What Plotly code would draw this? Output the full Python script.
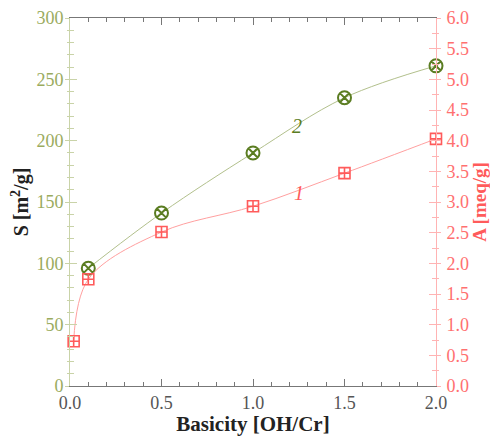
import plotly.graph_objects as go

basicity_s = [0.1, 0.5, 1.0, 1.5, 2.0]
surface_s = [96, 141, 190, 235, 261]
basicity_a = [0.02, 0.1, 0.5, 1.0, 1.5, 2.0]
acidity_a = [0.73, 1.74, 2.51, 2.93, 3.47, 4.03]

GREEN_DARK = "#5b7d22"
GREEN_LINE = "#b2c08c"
GREEN_TXT = "#9aab5e"
GREEN_AX = "#c9d3a8"
RED = "#ff5b5b"
RED_LINE = "#ffa0a0"
RED_TXT = "#ff7070"
RED_AX = "#ffb3b3"
FONT = "Liberation Serif"

fig = go.Figure()
fig.add_trace(go.Scatter(
    x=basicity_s, y=surface_s, mode="lines+markers", yaxis="y",
    line=dict(color=GREEN_LINE, width=1, shape="spline"),
    marker=dict(symbol="circle-x-open", size=13, color=GREEN_DARK, line=dict(width=2)),
    showlegend=False, cliponaxis=False))
fig.add_trace(go.Scatter(
    x=basicity_a, y=acidity_a, mode="lines+markers", yaxis="y2",
    line=dict(color=RED_LINE, width=1, shape="spline"),
    marker=dict(symbol="square-cross-open", size=11, color=RED, line=dict(width=1.6)),
    showlegend=False, cliponaxis=False))

fig.add_annotation(x=1.24, y=212, xref="x", yref="y", text="<i>2</i>", showarrow=False,
                   font=dict(family=FONT, size=20, color=GREEN_DARK))
fig.add_annotation(x=1.25, y=3.15, xref="x", yref="y2", text="<i>1</i>", showarrow=False,
                   font=dict(family=FONT, size=20, color=RED))

fig.update_layout(
    width=490, height=428,
    margin=dict(l=62, r=62, t=10, b=50, autoexpand=False),
    paper_bgcolor="white", plot_bgcolor="white",
    font=dict(family=FONT),
    xaxis=dict(range=[0, 2], tickvals=[0, 0.5, 1.0, 1.5, 2.0], ticktext=["0.0", "0.5", "1.0", "1.5", "2.0"],
               automargin=False,
               showgrid=False, zeroline=False, showline=True, linecolor="#777", linewidth=1,
               mirror="ticks", ticks="inside", ticklen=7, tickcolor="#777",
               minor=dict(dtick=0.1, ticks="inside", ticklen=4, tickcolor="#777"),
               tickfont=dict(family=FONT, size=18, color="#555"),
               title=dict(text="<b>Basicity [OH/Cr]</b>", font=dict(family=FONT, size=21, color="#222"), standoff=2)),
    yaxis=dict(range=[0, 300], dtick=50, showgrid=False, zeroline=False, showline=True, automargin=False,
               linecolor=GREEN_AX, linewidth=1, ticks="inside", ticklen=7, tickcolor=GREEN_AX,
               minor=dict(dtick=10, ticks="inside", ticklen=4, tickcolor=GREEN_AX),
               tickfont=dict(family=FONT, size=18, color=GREEN_TXT), ticklabelstandoff=2,
               title=dict(text="<b>S [m<sup>2</sup>/g]</b>", font=dict(family=FONT, size=20, color="#222"), standoff=10)),
    yaxis2=dict(range=[0, 6], dtick=0.5, tickformat=".1f", overlaying="y", side="right", automargin=False,
                showgrid=False, zeroline=False, showline=True, linecolor=RED_AX, linewidth=1,
                ticks="inside", ticklen=7, tickcolor=RED_AX,
                minor=dict(dtick=0.25, ticks="inside", ticklen=4, tickcolor=RED_AX),
                tickfont=dict(family=FONT, size=18, color=RED_TXT), ticklabelstandoff=6,
                title=dict(text="<b>A [meq/g]</b>", font=dict(family=FONT, size=19, color=RED), standoff=4)),
    yaxis3=dict(range=[0, 300], dtick=50, overlaying="y", side="left", showticklabels=False,
                showgrid=False, zeroline=False, showline=False, ticks="outside", ticklen=4,
                tickcolor=GREEN_AX, minor=dict(dtick=10, ticks="outside", ticklen=2, tickcolor=GREEN_AX)),
    yaxis4=dict(range=[0, 6], dtick=0.5, overlaying="y", side="right", showticklabels=False,
                showgrid=False, zeroline=False, showline=False, ticks="outside", ticklen=4,
                tickcolor=RED_AX, minor=dict(dtick=0.25, ticks="outside", ticklen=2, tickcolor=RED_AX)),
)
fig.add_trace(go.Scatter(x=[None], y=[None], yaxis="y3", showlegend=False, hoverinfo="skip"))
fig.add_trace(go.Scatter(x=[None], y=[None], yaxis="y4", showlegend=False, hoverinfo="skip"))

fig.write_html("out.html")
